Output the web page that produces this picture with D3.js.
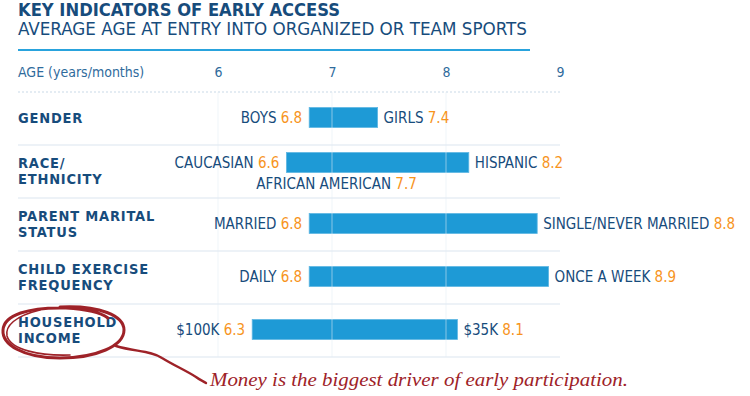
<!DOCTYPE html>
<html>
<head>
<meta charset="utf-8">
<script src="https://cdn.jsdelivr.net/npm/d3@7"></script>
<style>
  body { margin: 0; background: #fff; }
  svg { display: block; }
  .narrow { font-family: "Liberation Sans Narrow", "DejaVu Sans Condensed", "Roboto", sans-serif; }
</style>
</head>
<body>
<div id="chart"></div>
<script>
// data read from the graphic
var groupLabels = [["GENDER"], ["RACE/", "ETHNICITY"], ["PARENT MARITAL", "STATUS"], ["CHILD EXERCISE", "FREQUENCY"], ["HOUSEHOLD", "INCOME"]];
var lowLabels  = ["BOYS", "CAUCASIAN", "MARRIED", "DAILY", "$100K"];
var lowValues  = [6.8, 6.6, 6.8, 6.8, 6.3];
var highLabels = ["GIRLS", "HISPANIC", "SINGLE/NEVER MARRIED", "ONCE A WEEK", "$35K"];
var highValues = [7.4, 8.2, 8.8, 8.9, 8.1];
var midRow = 1, midLabel = "AFRICAN AMERICAN", midValue = 7.7;
var ageTicks = [6, 7, 8, 9];

var navy = "#174c7c", orange = "#f7941d", barBlue = "#1e9ad6", red = "#9e2228";
var W = 750, H = 396;
var m = {l: 18, top: 92, bottom: 357};

var svg = d3.select("#chart").append("svg").attr("width", W).attr("height", H);

// title
svg.append("text").attr("class", "narrow")
    .attr("x", m.l).attr("y", 16)
    .style("font-size", "18px").style("font-weight", "bold").attr("fill", navy)
    .attr("textLength", 322).attr("lengthAdjust", "spacingAndGlyphs")
    .text("KEY INDICATORS OF EARLY ACCESS");
svg.append("text").attr("class", "narrow")
    .attr("x", m.l).attr("y", 35)
    .style("font-size", "18.5px").attr("fill", navy)
    .attr("textLength", 509).attr("lengthAdjust", "spacingAndGlyphs")
    .text("AVERAGE AGE AT ENTRY INTO ORGANIZED OR TEAM SPORTS");
svg.append("line").attr("x1", m.l).attr("x2", 530).attr("y1", 50).attr("y2", 50)
    .attr("stroke", "#29a3dd").attr("stroke-width", 2);

var x = d3.scaleLinear().domain([6, 9]).range([218, 560]);
var y = d3.scaleBand().domain(d3.range(groupLabels.length)).range([m.top, m.bottom]);

// axis
svg.append("text").attr("class", "narrow")
    .attr("x", m.l).attr("y", 77)
    .style("font-size", "14px").attr("fill", "#2f6b9c")
    .text("AGE (years/months)");

var ax = svg.append("g").attr("class", "narrow")
    .attr("transform", "translate(0,77)")
    .call(d3.axisTop(x).tickValues(ageTicks).tickSize(0).tickPadding(0).tickFormat(d3.format("d")));
ax.select(".domain").remove();
ax.selectAll("text").style("font-size", "14px").style("font-family", "inherit").attr("fill", "#2f6b9c").attr("dy", 0);

// row separators
svg.append("line").attr("x1", m.l).attr("x2", 560).attr("y1", m.top).attr("y2", m.top)
    .attr("stroke", "#c9d9e7").attr("stroke-dasharray", "2,2");
svg.selectAll(".sep").data(d3.range(1, groupLabels.length + 1)).enter().append("line")
    .attr("x1", m.l).attr("x2", 560)
    .attr("y1", function(i) { return y(0) + i * y.step(); })
    .attr("y2", function(i) { return y(0) + i * y.step(); })
    .attr("stroke", "#edf2f7").attr("stroke-width", 2);

function rowY(i) { return y(i) + y.bandwidth() / 2 + (i === midRow ? -9 : -1); }

// bars
svg.selectAll(".bar").data(d3.range(groupLabels.length)).enter().append("rect")
    .attr("x", function(i) { return x(lowValues[i]); })
    .attr("width", function(i) { return x(highValues[i]) - x(lowValues[i]); })
    .attr("y", function(i) { return rowY(i) - 10; })
    .attr("height", 20)
    .attr("fill", barBlue).attr("stroke", "#5fb7e3").attr("stroke-width", 0.8);

// grid lines on top (faint)
svg.selectAll(".grid").data(ageTicks.slice(0, 3)).enter().append("line")
    .attr("x1", function(d) { return x(d); }).attr("x2", function(d) { return x(d); })
    .attr("y1", m.top).attr("y2", m.bottom)
    .attr("stroke", "#e3ecf4").attr("stroke-opacity", 0.55);

// group labels
var gl = svg.selectAll(".glab").data(d3.range(groupLabels.length)).enter().append("text")
    .attr("class", "narrow")
    .style("font-size", "14.5px").style("font-weight", "bold").style("letter-spacing", "0.8px")
    .attr("fill", navy)
    .attr("x", m.l)
    .attr("y", function(i) { var c = y(i) + y.bandwidth() / 2; return c + 4 - (groupLabels[i].length - 1) * 8; });
gl.selectAll("tspan").data(function(i) { return groupLabels[i]; }).enter().append("tspan")
    .attr("x", m.l).attr("dy", function(d, k) { return k ? 16 : 0; })
    .text(function(d) { return d; });

// value labels
function valueLabel(lbl, val, xpos, ypos, anchor) {
    var t = svg.append("text").attr("class", "narrow")
        .attr("x", xpos).attr("y", ypos).attr("text-anchor", anchor)
        .style("font-size", "15px").attr("fill", navy);
    t.append("tspan").text(lbl + " ");
    t.append("tspan").attr("fill", orange).text(d3.format(".1f")(val));
}
d3.range(groupLabels.length).forEach(function(i) {
    valueLabel(lowLabels[i], lowValues[i], x(lowValues[i]) - 7, rowY(i) + 5, "end");
    valueLabel(highLabels[i], highValues[i], x(highValues[i]) + 6, rowY(i) + 5, "start");
});
valueLabel(midLabel, midValue, x(midValue) + 5, rowY(midRow) + 26, "end");

// hand-drawn annotation
var loop = svg.append("g").attr("fill", "none").attr("stroke", red).attr("stroke-linecap", "round");
loop.append("path").attr("stroke-width", 3)
    .attr("d", "M60,307 C100,305 124,316 124,330 C124,346 96,358 60,358 C22,358 2,344 3,330 C4,315 28,307 66,308 C84,309 100,312 108,318");
loop.append("path").attr("stroke-width", 1.6)
    .attr("d", "M40,310 C15,316 5,326 7,336 C11,350 40,356 70,355");
loop.append("path").attr("stroke-width", 2.4)
    .attr("d", "M116,346 C135,352 150,350 162,358 C175,366 185,370 196,377 C200,380 203,381 206,383");
svg.append("text")
    .attr("x", 210).attr("y", 386)
    .style("font-family", "'Liberation Serif', serif").style("font-style", "italic")
    .style("font-size", "19px").attr("fill", red)
    .attr("textLength", 418).attr("lengthAdjust", "spacingAndGlyphs")
    .text("Money is the biggest driver of early participation.");
</script>
</body>
</html>
